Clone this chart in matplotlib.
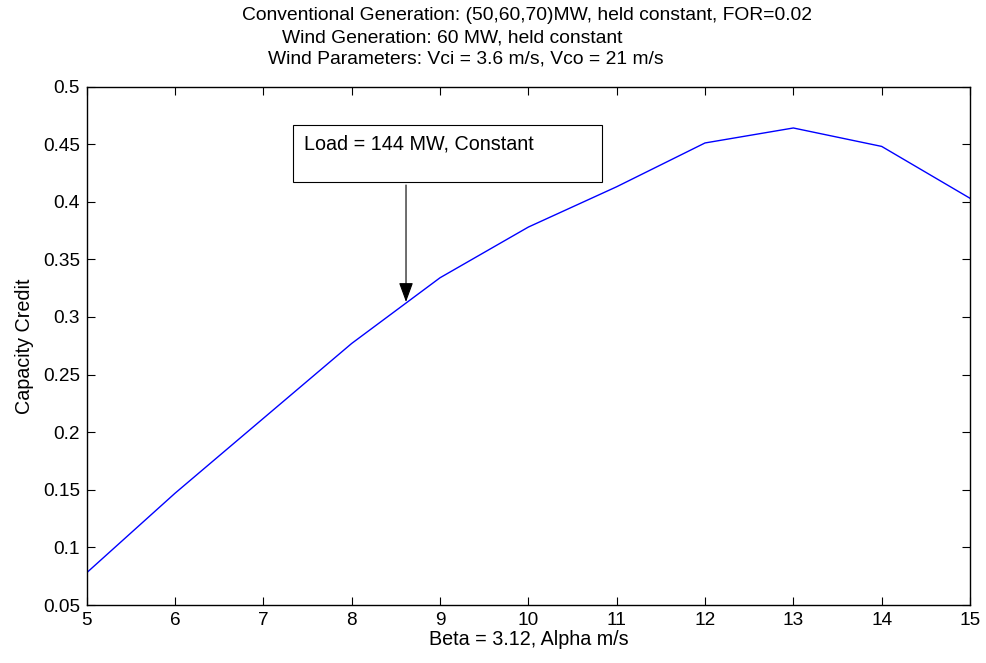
import matplotlib
matplotlib.use("Agg")
import matplotlib.pyplot as plt
from matplotlib.patches import Rectangle

plt.rcParams['font.family'] = ['Liberation Sans', 'DejaVu Sans']

# Capacity credit versus Weibull scale parameter (alpha)
alpha = [5, 6, 7, 8, 9, 10, 11, 12, 13, 14, 15]
capacity_credit = [0.078, 0.147, 0.212, 0.277, 0.334, 0.378, 0.413, 0.451, 0.464, 0.448, 0.403]

x_ticks = [5, 6, 7, 8, 9, 10, 11, 12, 13, 14, 15]
y_ticks = [0.05, 0.1, 0.15, 0.2, 0.25, 0.3, 0.35, 0.4, 0.45, 0.5]
y_tick_labels = ['0.05', '0.1', '0.15', '0.2', '0.25', '0.3', '0.35', '0.4', '0.45', '0.5']

title_lines = [
    "Conventional Generation: (50,60,70)MW, held constant, FOR=0.02",
    "Wind Generation: 60 MW, held constant",
    "Wind Parameters: Vci = 3.6 m/s, Vco = 21 m/s",
]
note_text = "Load = 144 MW, Constant"
note_point = (8.615, 0.313)
note_tail = (8.615, 0.4145)

W, H = 986, 663
fig = plt.figure(figsize=(W / 100, H / 100), dpi=100)
ax = fig.add_axes([86.7 / W, 1 - 605 / H, (970 - 86.7) / W, (605 - 86.5) / H])

ax.plot(alpha, capacity_credit, color='#0000ff', lw=1.0)

ax.set_xlim(5, 15)
ax.set_ylim(0.05, 0.5)
ax.set_xticks(x_ticks)
ax.set_yticks(y_ticks)
ax.set_yticklabels(y_tick_labels)
ax.tick_params(direction='in', length=6, width=0.8, labelsize=13.7,
               top=True, right=True, pad=5, colors='black')
for s in ax.spines.values():
    s.set_linewidth(1.0)

ax.set_xlabel("Beta = 3.12, Alpha m/s", fontsize=14.2, labelpad=1)
ax.set_ylabel("Capacity Credit", fontsize=14.2, labelpad=6)

# Stacked title lines
title_x = [241.7, 281.7, 268.3]
title_y = [15, 38, 59]
for txt, tx, ty in zip(title_lines, title_x, title_y):
    fig.text(tx / W, 1 - ty / H, txt, fontsize=13.9, ha='left', va='center')

# Text box and arrow
ax.add_patch(Rectangle((0.234, 0.815), 0.349, 0.111, transform=ax.transAxes,
                       facecolor='white', edgecolor='black', lw=0.8, zorder=5))
ax.text(0.246, 0.889, note_text, transform=ax.transAxes, fontsize=14.2,
        ha='left', va='center', zorder=6)
ax.annotate("", xy=note_point, xytext=note_tail,
            arrowprops=dict(arrowstyle="-|>,head_length=0.6,head_width=0.22",
                            mutation_scale=20, color='black', lw=0.8,
                            shrinkA=0, shrinkB=0))

fig.savefig("out.png", dpi=100)
